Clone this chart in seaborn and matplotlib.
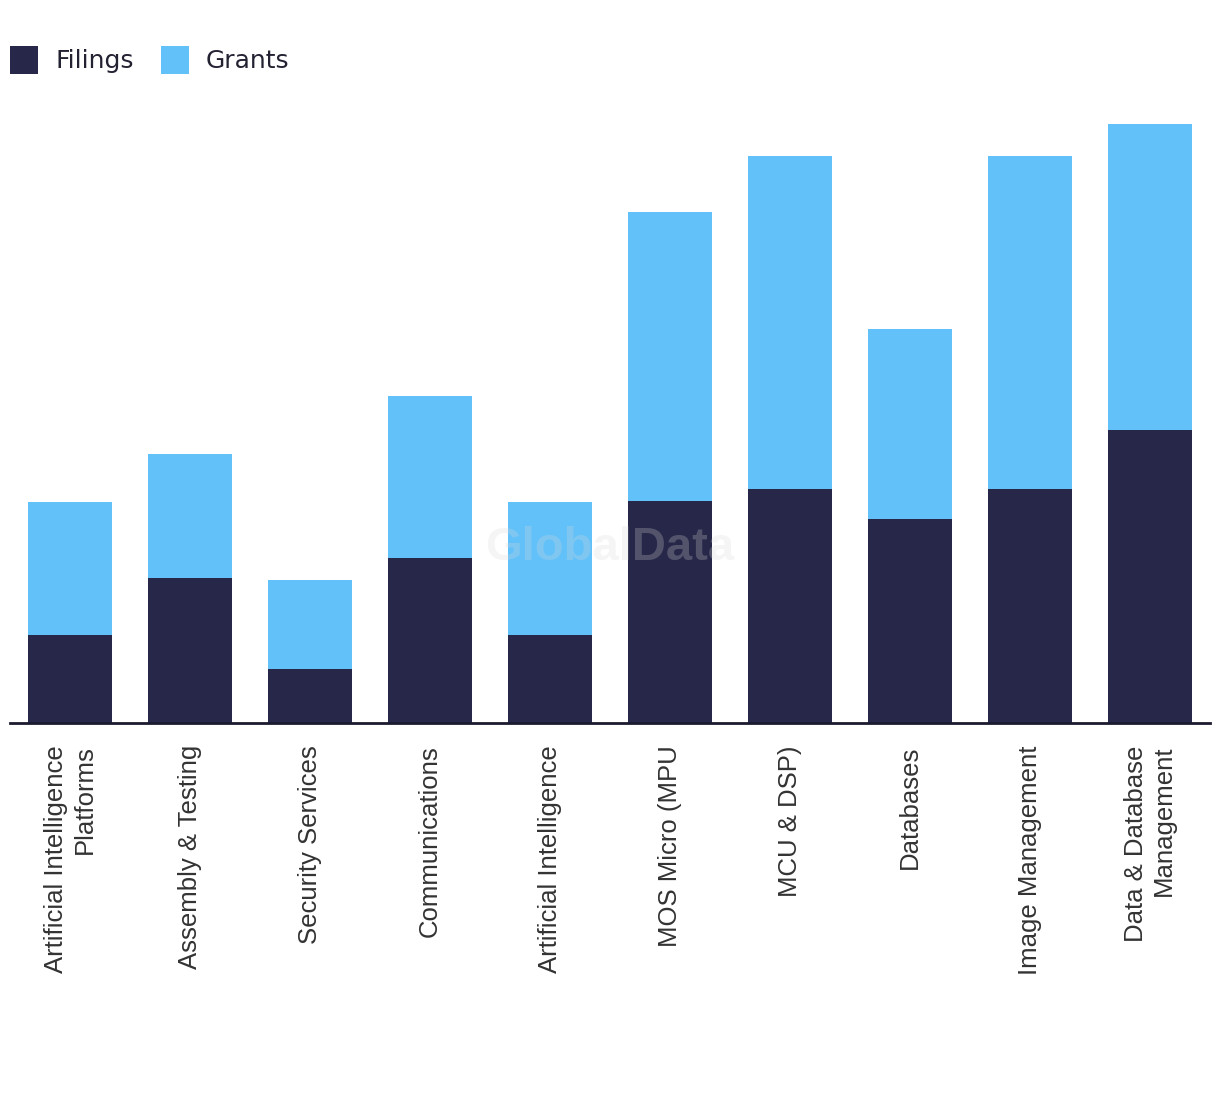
import matplotlib
matplotlib.use("Agg")
import matplotlib.pyplot as plt
import seaborn as sns
import pandas as pd
from matplotlib.patches import Patch

categories = [
    "Artificial Intelligence\nPlatforms",
    "Assembly & Testing",
    "Security Services",
    "Communications",
    "Artificial Intelligence",
    "MOS Micro (MPU",
    "MCU & DSP)",
    "Databases",
    "Image Management",
    "Data & Database\nManagement",
]
filings = [88, 145, 54, 165, 88, 222, 234, 204, 234, 293]
grants = [133, 124, 89, 162, 133, 289, 333, 190, 333, 306]

dark = "#272849"
light = "#62C1F9"

sns.set_theme(style="white")
plt.rcParams["font.family"] = ["Liberation Sans", "DejaVu Sans"]

df = pd.DataFrame({"category": categories, "filings": filings, "grants": grants})
df["total"] = df["filings"] + df["grants"]

fig = plt.figure(figsize=(12.2, 10.94), dpi=100)
ax = fig.add_axes([10 / 1220, 1 - 723 / 1094, 1200 / 1220, 623 / 1094])

sns.barplot(data=df, x="category", y="total", color=light, width=0.7,
            saturation=1, ax=ax, order=categories, linewidth=0, edgecolor="none")
sns.barplot(data=df, x="category", y="filings", color=dark, width=0.7,
            saturation=1, ax=ax, order=categories, linewidth=0, edgecolor="none")

ax.set_xlim(-0.5, len(categories) - 0.5)
ax.set_ylim(0, 623)
ax.set_xlabel("")
ax.set_ylabel("")
ax.set_yticks([])
for s in ["top", "right", "left"]:
    ax.spines[s].set_visible(False)
ax.spines["bottom"].set_color("#1b1b2f")
ax.spines["bottom"].set_linewidth(2)
ax.tick_params(axis="x", length=0, pad=16)
ax.set_xticks(range(len(categories)))
ax.set_xticklabels(categories, rotation=90, ha="center", va="top",
                   fontsize=18.5, color="#333333", multialignment="right",
                   linespacing=1.25)

# watermark
fig.text(610 / 1220, 1 - 548 / 1094, "GlobalData", fontsize=34, fontweight="bold",
         color="#d8d8d8", alpha=0.25, ha="center", va="center",
         family=["Liberation Sans", "DejaVu Sans"])

handles = [Patch(facecolor=dark, edgecolor="none", label="Filings"),
           Patch(facecolor=light, edgecolor="none", label="Grants")]
leg = fig.legend(handles=handles, loc="upper left",
                 bbox_to_anchor=(10 / 1220, 1 - 46 / 1094), ncol=2, frameon=False,
                 borderpad=0, borderaxespad=0,
                 handlelength=1.12, handleheight=1.35, handletextpad=0.68,
                 columnspacing=1.1, prop={"family": ["DejaVu Sans"], "size": 18})
for t in leg.get_texts():
    t.set_color("#222233")

fig.savefig("out.png", dpi=100, facecolor="white")
